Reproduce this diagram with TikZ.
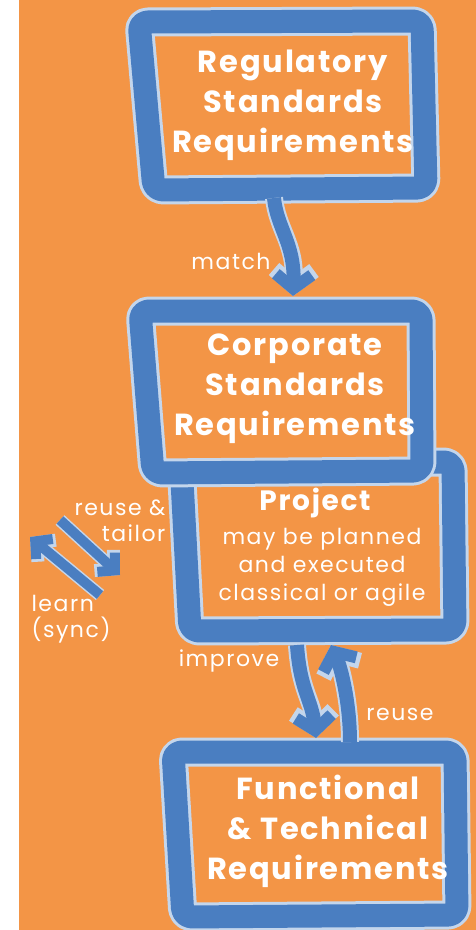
\documentclass[tikz,border=0pt]{standalone}
\usepackage{fontspec}
\setmainfont{Poppins}
\usetikzlibrary{arrows.meta}
\definecolor{bgorange}{RGB}{243,149,70}
\definecolor{chalkblue}{RGB}{74,126,193}
\definecolor{chalkedge}{RGB}{196,214,236}
\begin{document}
\begin{tikzpicture}[x=1pt,y=-1pt,
  frameedge/.style={draw=chalkedge, line width=29pt, rounded corners=9pt, line join=round},
  frame/.style={draw=chalkblue, line width=23pt, rounded corners=9pt, line join=round},
  title/.style={text=white, font=\fontsize{30.5}{40}\selectfont\bfseries\addfontfeatures{LetterSpace=6}, align=center, inner sep=0pt},
  projtitle/.style={text=white, font=\fontsize{28}{30}\selectfont\bfseries\addfontfeatures{LetterSpace=6}, inner sep=0pt},
  body/.style={text=white, font=\fontsize{22}{28}\selectfont\addfontfeatures{LetterSpace=7}, align=center, inner sep=0pt},
  lbl/.style={text=white, font=\fontsize{22}{26}\selectfont\addfontfeatures{LetterSpace=7}, inner sep=0pt},
  bigarrowedge/.style={draw=chalkedge, line width=18pt, -{Straight Barb[length=16pt, width=40pt, line width=16pt]}},
  bigarrow/.style={draw=chalkblue, line width=14pt, -{Straight Barb[length=14pt, width=36pt, line width=12pt]}},
  smallarrowedge/.style={draw=chalkedge, line width=13pt, -{Straight Barb[length=13pt, width=28pt, line width=13pt]}},
  smallarrow/.style={draw=chalkblue, line width=10pt, -{Straight Barb[length=12pt, width=26pt, line width=10pt]}}
]
\useasboundingbox (0,0) rectangle (476,930);
\fill[white] (0,0) rectangle (19,930);
\fill[bgorange] (19,0) rectangle (476,930);

% Project box (behind Corporate box)
\path[frameedge] (181,462) -- (453,462) -- (455,630) -- (190,631) -- cycle;
\path[frame] (181,462) -- (453,462) -- (455,630) -- (190,631) -- cycle;

% Regulatory box
\path[frameedge, fill=bgorange] (139,22) -- (422,21) -- (426,188) -- (154,190) -- cycle;
\path[frame] (139,22) -- (422,21) -- (426,188) -- (154,190) -- cycle;

% Corporate box
\path[frameedge, fill=bgorange] (140,311) -- (421,311) -- (422,471) -- (153,473) -- cycle;
\path[frame] (140,311) -- (421,311) -- (422,471) -- (153,473) -- cycle;

% Functional box
\path[frameedge] (173,752) -- (455,752) -- (457,915) -- (183,917) -- cycle;
\path[frame] (173,752) -- (455,752) -- (457,915) -- (183,917) -- cycle;

% texts
\node[title] (reg) at (293,105) {Regulatory\\Standards\\Requirements};
\node[title] (corp) at (295,389) {Corporate\\Standards\\Requirements};
\node[projtitle] (proj) at (315,503) {Project};
\node[body] (projtxt) at (322,567) {may be planned\\and executed\\classical or agile};
\node[title] (func) at (328,831) {Functional\\\& Technical\\Requirements};

% connector end points
\coordinate (m1) at (274,198);
\coordinate (m2) at (293,296);
\coordinate (i1) at (297,645);
\coordinate (i2) at (316,738);
\coordinate (r1) at (350,742);
\coordinate (r2) at (331,645);
\coordinate (t1) at (60,520);
\coordinate (t2) at (120,575);
\coordinate (l1) at (100,595);
\coordinate (l2) at (30,537);

% arrows
\draw[bigarrowedge] (m1) .. controls (277,228) and (295,244) .. (m2);
\draw[bigarrow] (m1) .. controls (277,228) and (295,244) .. (m2);
\draw[bigarrowedge] (i1) .. controls (300,690) and (312,700) .. (i2);
\draw[bigarrow] (i1) .. controls (300,690) and (312,700) .. (i2);
\draw[bigarrowedge] (r1) .. controls (350,700) and (340,665) .. (r2);
\draw[bigarrow] (r1) .. controls (350,700) and (340,665) .. (r2);
\draw[smallarrowedge] (t1) -- (t2);
\draw[smallarrow] (t1) -- (t2);
\draw[smallarrowedge] (l1) -- (l2);
\draw[smallarrow] (l1) -- (l2);

% labels
\node[lbl] (match) at (231,261) {match};
\node[lbl, align=right] (reusetailor) at (120,521) {reuse \&\\tailor};
\node[lbl, align=left] (learn) at (71,619) {learn\\(sync)};
\node[lbl] (improve) at (229,661) {improve};
\node[lbl] (reuse) at (400,714) {reuse};
\end{tikzpicture}
\end{document}
